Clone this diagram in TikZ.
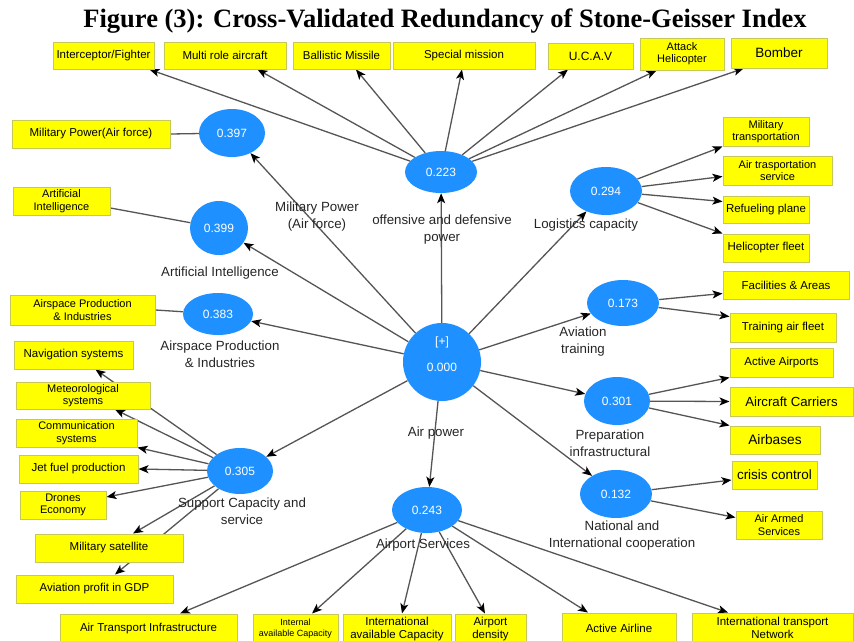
\documentclass[tikz,border=0pt]{standalone}
\usepackage{fontspec}
\setmainfont{Liberation Sans}
\newfontfamily\titlefont{Liberation Serif}
\usetikzlibrary{arrows.meta,shapes.geometric,calc}
\definecolor{boxyellow}{RGB}{255,255,0}
\definecolor{boxedge}{RGB}{200,200,90}
\definecolor{lvblue}{RGB}{30,144,255}
\definecolor{conn}{RGB}{85,85,85}
\pgfdeclarelayer{bg}
\pgfdeclarelayer{paper}
\pgfsetlayers{paper,bg,main}
\begin{document}
\begin{tikzpicture}[x=1pt,y=-1pt,
 ibox/.style={fill=boxyellow,draw=boxedge,line width=1pt,inner sep=0pt,align=center,font=\fontsize{11.5}{12.5}\selectfont,text=black},
 lv/.style={ellipse,fill=lvblue,draw=none,inner sep=0pt,text=white,font=\fontsize{12}{14}\selectfont},
 lvtext/.style={text=white,inner sep=0pt,font=\fontsize{12}{14}\selectfont},
 lab/.style={align=center,font=\fontsize{13.3}{17}\selectfont,text=black!85,inner sep=0pt},
 link/.style={draw=conn,line width=1.3pt},
 arr/.style={link,-{Stealth[length=10pt,width=8pt,inset=2.5pt,color=black]}},
]
\begin{pgfonlayer}{paper}
\fill[white] (0,0) rectangle (854,640);
\end{pgfonlayer}
\useasboundingbox (0,0) rectangle (854,640);
\clip (0,0) rectangle (854,640);

% title
\node[anchor=base,inner sep=0pt,font=\titlefont\bfseries\fontsize{26.5}{30}\selectfont] (title) at (445,27) {Figure (3): Cross-Validated Redundancy of Stone-Geisser Index};

% latent variables
\node[lv,minimum width=66pt,minimum height=48pt] (e397) at (232,133) {0.397};
\node[lv,minimum width=72pt,minimum height=42pt] (e223) at (441,172) {0.223};
\node[lv,minimum width=58pt,minimum height=54pt] (e399) at (219,228) {0.399};
\node[lv,minimum width=72pt,minimum height=48pt] (e294) at (606,191) {0.294};
\node[lv,minimum width=70pt,minimum height=42pt] (e383) at (218,314) {0.383};
\node[lv,circle,minimum size=78pt] (air) at (442,362) {};
\node[lvtext] (airplus) at (442,342) {[+]};
\node[lvtext] (airval) at (442,367) {0.000};
\node[lv,minimum width=72pt,minimum height=46pt] (e173) at (623,303) {0.173};
\node[lv,minimum width=66pt,minimum height=48pt] (e301) at (617,401) {0.301};
\node[lv,minimum width=66pt,minimum height=46pt] (e305) at (240,471) {0.305};
\node[lv,minimum width=70pt,minimum height=46pt] (e243) at (427,510) {0.243};
\node[lv,minimum width=72pt,minimum height=48pt] (e132) at (616,494) {0.132};

% labels
\node[lab] (lmp) at (317,217) {Military Power\\(Air force)};
\node[lab] (lod) at (442,230) {offensive and defensive\\power};
\node[lab] (llog) at (586,225) {Logistics capacity};
\node[lab] (lai) at (220,273) {Artificial Intelligence};
\node[lab] (lap) at (220,354) {Airspace Production\\\& Industries};
\node[lab] (lat) at (583,342) {Aviation\\training};
\node[lab] (lpi) at (610,443) {Preparation\\infrastructural};
\node[lab] (lair) at (436,433) {Air power};
\node[lab] (lsc) at (242,511) {Support Capacity and\\service};
\node[lab] (las) at (423,545) {Airport Services};
\node[lab] (lnic) at (622,536) {National and\\International cooperation};

% top indicators
\node[ibox,minimum width=101pt,minimum height=27pt] (intf) at (103.5,55.5) {Interceptor/Fighter};
\node[ibox,minimum width=122pt,minimum height=27pt] (multi) at (225,55.5) {Multi role aircraft};
\node[ibox,minimum width=97pt,minimum height=27pt] (ballistic) at (341.5,55.5) {Ballistic Missile};
\node[ibox,minimum width=142pt,minimum height=27pt] (special) at (464,55.5) {Special mission};
\node[ibox,minimum width=85pt,minimum height=26pt,font=\fontsize{12}{13}\selectfont] (ucav) at (590.5,56) {U.C.A.V};
\node[ibox,minimum width=84pt,minimum height=32pt,font=\fontsize{11}{12}\selectfont] (attack) at (682,54) {Attack\\Helicopter};
\node[ibox,minimum width=96pt,minimum height=30pt,font=\fontsize{13.5}{14}\selectfont] (bomber) at (779,53) {Bomber};

% left indicators
\node[ibox,minimum width=158pt,minimum height=28pt] (mpbox) at (91,134) {Military Power(Air force)};
\node[ibox,minimum width=97pt,minimum height=28pt,font=\fontsize{11}{12.5}\selectfont] (aibox) at (61.5,201) {Artificial\\Intelligence};
\node[ibox,minimum width=145pt,minimum height=30pt,font=\fontsize{11}{12.5}\selectfont] (apbox) at (82.5,310) {Airspace Production\\\& Industries};
\node[ibox,minimum width=119pt,minimum height=28pt] (nav) at (73.5,355) {Navigation systems};
\node[ibox,minimum width=134pt,minimum height=27pt,font=\fontsize{11}{12.5}\selectfont] (met) at (83,395.5) {Meteorological\\systems};
\node[ibox,minimum width=121pt,minimum height=28pt,font=\fontsize{11}{12.5}\selectfont] (comm) at (76.5,433) {Communication\\systems};
\node[ibox,minimum width=119pt,minimum height=28pt] (jet) at (78.5,469) {Jet fuel production};
\node[ibox,minimum width=86pt,minimum height=28pt,font=\fontsize{11}{12.5}\selectfont] (drones) at (63,505) {Drones\\Economy};
\node[ibox,minimum width=148pt,minimum height=28pt] (milsat) at (109,548) {Military satellite};
\node[ibox,minimum width=157pt,minimum height=28pt] (avprofit) at (94.5,589) {Aviation profit in GDP};

% right indicators
\node[ibox,minimum width=86pt,minimum height=29pt,font=\fontsize{11}{12.5}\selectfont] (miltrans) at (766,131.5) {Military\\transportation};
\node[ibox,minimum width=109pt,minimum height=29pt,font=\fontsize{11}{12.5}\selectfont] (airtrans) at (777.5,170.5) {Air trasportation\\service};
\node[ibox,minimum width=86pt,minimum height=27pt] (refuel) at (766,209.5) {Refueling plane};
\node[ibox,minimum width=86pt,minimum height=28pt] (heli) at (766,248) {Helicopter fleet};
\node[ibox,minimum width=126pt,minimum height=28pt] (facil) at (786,285) {Facilities \& Areas};
\node[ibox,minimum width=106pt,minimum height=29pt] (trainfleet) at (783,327.5) {Training air fleet};
\node[ibox,minimum width=103pt,minimum height=29pt] (actairports) at (781.5,362.5) {Active Airports};
\node[ibox,minimum width=123pt,minimum height=29pt,font=\fontsize{13.2}{14}\selectfont] (carriers) at (791.5,401.5) {Aircraft Carriers};
\node[ibox,minimum width=90pt,minimum height=28pt,font=\fontsize{13.7}{14}\selectfont] (airbases) at (775,440) {Airbases};
\node[ibox,minimum width=85pt,minimum height=28pt,font=\fontsize{13.5}{14}\selectfont] (crisis) at (774.5,475) {crisis control};
\node[ibox,minimum width=86pt,minimum height=28pt,font=\fontsize{11}{12.5}\selectfont] (airarmed) at (779,525) {Air Armed\\Services};

% bottom indicators
\node[ibox,minimum width=177pt,minimum height=30pt] (ati) at (148.5,629) {Air Transport Infrastructure};
\node[ibox,minimum width=85pt,minimum height=30pt,font=\fontsize{9}{11}\selectfont] (internal) at (295.5,629) {Internal\\available Capacity};
\node[ibox,minimum width=108pt,minimum height=30pt,font=\fontsize{11.5}{12.5}\selectfont] (intlcap) at (397,629) {International\\available Capacity};
\node[ibox,minimum width=71pt,minimum height=30pt,font=\fontsize{11.5}{12.5}\selectfont] (density) at (490.5,629) {Airport\\density};
\node[ibox,minimum width=114pt,minimum height=30pt] (activeairline) at (619,628) {Active Airline};
\node[ibox,minimum width=161pt,minimum height=30pt,font=\fontsize{11.5}{12.5}\selectfont] (intltrans) at (772.5,628) {International transport\\Network};

\begin{pgfonlayer}{bg}
% structural paths from Air power
\draw[arr] (air) -- (e397);
\draw[arr] (air) -- (e399);
\draw[arr] (air) -- (e383);
\draw[arr] (air) -- (e223);
\draw[arr] (air) -- (e294);
\draw[arr] (air) -- (e173);
\draw[arr] (air) -- (e301);
\draw[arr] (air) -- (e132);
\draw[arr] (air) -- (e243);
\draw[arr] (air) -- (e305);
% single indicators
\draw[link] (mpbox.east) -- (e397);
\draw[link] ([yshift=-7pt]aibox.east) -- (e399);
\draw[link] (apbox.east) -- (e383);
% offensive and defensive power
\draw[arr] (e223) -- ([xshift=-5pt]intf.south east);
\draw[arr] (e223) -- ([xshift=-29pt]multi.south east);
\draw[arr] (e223) -- ([xshift=14.5pt]ballistic.south);
\draw[arr] (e223) -- ([xshift=-2pt]special.south);
\draw[arr] (e223) -- ([xshift=-22.5pt]ucav.south);
\draw[arr] (e223) -- ([xshift=17pt]attack.south west);
\draw[arr] (e223) -- ([xshift=13pt]bomber.south west);
% logistics
\draw[arr] (e294) -- (miltrans.south west);
\draw[arr] (e294) -- ([yshift=-6pt]airtrans.west);
\draw[arr] (e294) -- ([yshift=-6pt]refuel.north west);
\draw[arr] (e294) -- (heli.north west);
% aviation training
\draw[arr] (e173) -- ([yshift=6pt]facil.south west);
\draw[arr] (e173) -- ([yshift=-4pt]trainfleet.north west);
% preparation
\draw[arr] (e301) -- (actairports.south west);
\draw[arr] (e301) -- (carriers.west);
\draw[arr] (e301) -- (airbases.north west);
% cooperation
\draw[arr] (e132) -- ([yshift=-5pt]crisis.west);
\draw[arr] (e132) -- ([yshift=-7pt]airarmed.north west);
% support capacity
\draw[arr] (e305) -- ([xshift=22pt]nav.south);
\draw[arr] (e305) -- ([xshift=32pt]met.south);
\draw[arr] (e305) -- (comm.south east);
\draw[arr] (e305) -- (jet.east);
\draw[arr] (e305) -- ([yshift=8pt]drones.east);
\draw[arr] (e305) -- ([xshift=24pt]milsat.north);
\draw[arr] (e305) -- ([xshift=20.5pt]avprofit.north);
% airport services
\draw[arr] (e243) -- ([xshift=31.5pt]ati.north);
\draw[arr] (e243) -- ([xshift=16.5pt]internal.north);
\draw[arr] (e243) -- ([xshift=5pt]intlcap.north);
\draw[arr] (e243) -- ([xshift=-5.5pt]density.north);
\draw[arr] (e243) -- ([xshift=-31pt]activeairline.north);
\draw[arr] (e243) -- ([xshift=-44.5pt]intltrans.north);
\end{pgfonlayer}
\end{tikzpicture}
\end{document}
